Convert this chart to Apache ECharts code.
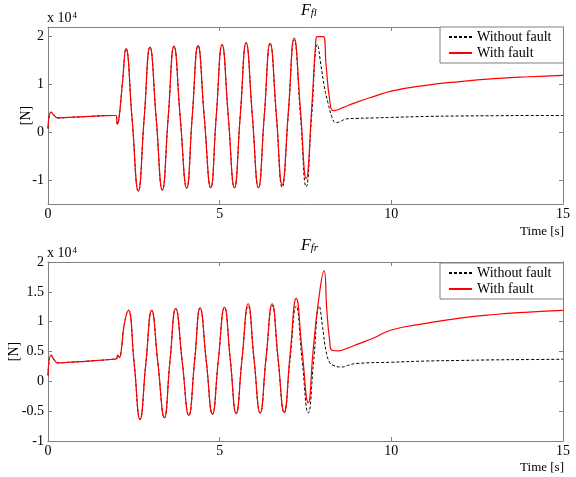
<!DOCTYPE html>
<html>
<head>
<meta charset="utf-8">
<script src="https://cdn.jsdelivr.net/npm/echarts@6/dist/echarts.min.js"></script>
<style>
  html, body { margin: 0; padding: 0; background: #fff; }
  #chart { width: 576px; height: 477px; }
</style>
</head>
<body>
<div id="chart"></div>
<script>
// values are in units of 10^4 N, time in seconds
const flCommon = [
  [0, 0.08], [0.09, 0.42], [0.18, 0.35], [0.28, 0.3], [0.6, 0.31], [1.2, 0.33],
  [1.9, 0.35], [1.98, 0.35], [2.02, 0.17], [2.07, 0.3], [2.17, 1.05], [2.27, 1.75],
  [2.45, 0.27], [2.63, -1.23], [2.8, 0.28], [2.97, 1.78],
  [3.15, 0.3], [3.33, -1.21], [3.5, 0.3], [3.67, 1.8],
  [3.85, 0.32], [4.04, -1.17], [4.2, 0.32], [4.37, 1.81],
  [4.55, 0.33], [4.74, -1.16], [4.9, 0.33], [5.07, 1.83],
  [5.25, 0.34], [5.43, -1.16], [5.6, 0.35], [5.77, 1.87],
  [5.95, 0.36], [6.13, -1.16], [6.3, 0.35], [6.47, 1.86]
];
const flNoFaultTail = [
  [6.65, 0.35], [6.82, -1.15], [7.0, 0.37], [7.17, 1.93],
  [7.35, 0.38], [7.52, -1.14], [7.68, 0.35], [7.85, 1.83],
  [7.95, 1.4], [8.05, 0.95], [8.16, 0.6], [8.28, 0.3], [8.38, 0.2], [8.5, 0.22],
  [8.7, 0.28], [9, 0.29], [9.5, 0.3], [10, 0.31], [11, 0.33], [12, 0.34],
  [13, 0.345], [14, 0.35], [15, 0.35]
];
const flFaultTail = [
  [6.65, 0.38], [6.82, -1.1], [7.0, 0.43], [7.17, 1.97],
  [7.35, 0.5], [7.52, -0.97], [7.68, 0.5], [7.8, 1.9], [7.84, 2.0], [8.02, 2.0],
  [8.1, 1.4], [8.2, 0.7], [8.3, 0.45], [8.4, 0.46], [8.6, 0.52], [9, 0.63],
  [9.5, 0.75], [10, 0.86], [11, 0.98], [12, 1.06], [13, 1.12], [14, 1.16], [15, 1.19]
];

const frCommon = [
  [0, 0.1], [0.09, 0.44], [0.18, 0.36], [0.28, 0.31], [0.6, 0.32], [1.2, 0.34],
  [1.9, 0.37], [2.0, 0.38], [2.03, 0.44], [2.08, 0.4], [2.13, 0.5], [2.22, 0.95], [2.34, 1.19],
  [2.51, 0.3], [2.68, -0.64], [2.85, 0.3], [3.02, 1.19],
  [3.2, 0.31], [3.39, -0.61], [3.55, 0.32], [3.72, 1.22],
  [3.91, 0.33], [4.1, -0.57], [4.27, 0.34], [4.43, 1.23],
  [4.61, 0.34], [4.79, -0.55], [4.96, 0.35], [5.14, 1.24],
  [5.31, 0.36], [5.48, -0.54], [5.65, 0.37]
];
const frNoFaultTail = [
  [5.83, 1.26], [6.0, 0.36], [6.18, -0.53], [6.35, 0.37], [6.53, 1.27],
  [6.7, 0.37], [6.88, -0.53], [7.05, 0.37], [7.23, 1.26],
  [7.4, 0.36], [7.58, -0.53], [7.74, 0.36], [7.9, 1.26],
  [8.0, 0.9], [8.1, 0.5], [8.2, 0.32], [8.3, 0.27], [8.55, 0.24], [8.75, 0.27],
  [9, 0.3], [10, 0.32], [11, 0.34], [12, 0.35], [13, 0.36], [14, 0.365], [15, 0.37]
];
const frFaultTail = [
  [5.83, 1.3], [6.0, 0.39], [6.18, -0.53], [6.35, 0.39], [6.53, 1.3],
  [6.7, 0.4], [6.88, -0.52], [7.05, 0.44], [7.23, 1.39],
  [7.4, 0.52], [7.58, -0.36], [7.72, 0.5], [7.87, 1.31], [8.04, 1.85],
  [8.12, 1.2], [8.2, 0.7], [8.27, 0.52], [8.45, 0.51], [8.6, 0.53], [9, 0.62],
  [9.5, 0.73], [10, 0.86], [11, 0.97], [12, 1.06], [13, 1.12], [14, 1.16], [15, 1.19]
];

const flTicks = [-1, 0, 1, 2];
const seriesNames = ["Without fault", "With fault"];

const serif = "'Liberation Serif', 'Times New Roman', serif";
const frameColor = "#808080";

function xAxisFor(grid, pos, showLabels) {
  return {
    type: "value",
    gridIndex: grid,
    position: pos,
    min: 0,
    max: 15,
    interval: 5,
    axisLine: { onZero: false, lineStyle: { color: frameColor, width: 1 } },
    axisTick: { inside: true, length: 4, lineStyle: { color: frameColor } },
    axisLabel: {
      show: showLabels,
      margin: 3,
      color: "#000",
      fontFamily: serif,
      fontSize: 14,
    },
    splitLine: { show: false },
  };
}

function yAxisFor(grid, pos, showLabels, extra) {
  return Object.assign(
    {
      type: "value",
      gridIndex: grid,
      position: pos,
      axisLine: { onZero: false, lineStyle: { color: frameColor, width: 1 } },
      axisTick: { inside: true, length: 4, lineStyle: { color: frameColor } },
      axisLabel: {
        show: showLabels,
        margin: 4,
        color: "#000",
        fontFamily: serif,
        fontSize: 14,
      },
      splitLine: { show: false },
    },
    extra
  );
}

function yName(gap) {
  return {
    name: "[N]",
    nameLocation: "middle",
    nameRotate: 90,
    nameGap: gap,
    nameMoveOverlap: false,
    nameTextStyle: { fontFamily: serif, fontSize: 14, color: "#000" },
  };
}

function legendAt(top) {
  return {
    data: seriesNames,
    orient: "vertical",
    left: 440,
    top: top,
    itemWidth: 23,
    itemHeight: 14,
    itemGap: 2,
    padding: [3, 12, 3, 8],
    borderColor: frameColor,
    borderWidth: 1,
    borderRadius: 0,
    backgroundColor: "#fff",
    selectedMode: false,
    itemStyle: { opacity: 0 },
    textStyle: { fontFamily: serif, fontSize: 14, color: "#000" },
  };
}

function titleText(left, top, sub) {
  return {
    text: "{F|F}{s|" + sub + "}",
    left: left,
    top: top,
    padding: 0,
    textStyle: {
      fontWeight: "normal",
      rich: {
        F: { fontFamily: serif, fontStyle: "italic", fontWeight: "normal", fontSize: 16, lineHeight: 16, verticalAlign: "top", color: "#000" },
        s: { fontFamily: serif, fontStyle: "italic", fontWeight: "normal", fontSize: 11, lineHeight: 11, verticalAlign: "bottom", padding: [11, 0, 0, 0], color: "#000" },
      },
    },
  };
}

function scaleText(top) {
  return {
    text: "{a|x 10}{b|4}",
    left: 47,
    top: top,
    padding: 0,
    textStyle: {
      fontWeight: "normal",
      rich: {
        a: { fontFamily: serif, fontWeight: "normal", fontSize: 14, lineHeight: 14, verticalAlign: "bottom", color: "#000" },
        b: { fontFamily: serif, fontWeight: "normal", fontSize: 9, lineHeight: 9, verticalAlign: "top", padding: [0, 0, 6, 1], color: "#000" },
      },
    },
  };
}

function timeLabel(top) {
  return {
    text: "Time [s]",
    right: 12,
    top: top,
    padding: 0,
    textStyle: { fontFamily: serif, fontSize: 13, fontWeight: "normal", color: "#000" },
  };
}

function lineSeries(name, data, axis, isFault) {
  return {
    name: name,
    type: "line",
    xAxisIndex: axis,
    yAxisIndex: axis,
    data: data,
    smooth: 0.5,
    symbol: "none",
    animation: false,
    color: isFault ? "#ff0000" : "#000000",
    lineStyle: isFault
      ? { color: "#ff0000", width: 1.2 }
      : { color: "#000000", width: 1, type: [3, 2] },
  };
}

const myChart = echarts.init(document.getElementById("chart"));

myChart.setOption({
  backgroundColor: "#fff",
  animation: false,
  title: [
    titleText(301, 3, "fl"),
    titleText(301, 238, "fr"),
    scaleText(11),
    scaleText(246),
    timeLabel(225),
    timeLabel(461),
  ],
  legend: [legendAt(27), legendAt(263)],
  grid: [
    { left: 48, right: 13, top: 27, height: 177, containLabel: false, outerBoundsMode: "none" },
    { left: 48, right: 13, top: 262, height: 179, containLabel: false, outerBoundsMode: "none" },
  ],
  xAxis: [
    xAxisFor(0, "bottom", true),
    xAxisFor(0, "top", false),
    xAxisFor(1, "bottom", true),
    xAxisFor(1, "top", false),
  ],
  yAxis: [
    yAxisFor(0, "left", true, Object.assign({
      min: -1.5,
      max: 2.2,
      axisLabel: { margin: 4, color: "#000", fontFamily: serif, fontSize: 14, customValues: flTicks },
      axisTick: { inside: true, length: 4, lineStyle: { color: frameColor }, customValues: flTicks },
    }, yName(15))),
    yAxisFor(0, "right", false, {
      min: -1.5,
      max: 2.2,
      axisTick: { inside: true, length: 4, lineStyle: { color: frameColor }, customValues: flTicks },
    }),
    yAxisFor(1, "left", true, Object.assign({ min: -1, max: 2, interval: 0.5 }, yName(27))),
    yAxisFor(1, "right", false, { min: -1, max: 2, interval: 0.5 }),
  ],
  series: [
    lineSeries(seriesNames[0], flCommon.concat(flNoFaultTail), 0, false),
    lineSeries(seriesNames[1], flCommon.concat(flFaultTail), 0, true),
    lineSeries(seriesNames[0], frCommon.concat(frNoFaultTail), 2, false),
    lineSeries(seriesNames[1], frCommon.concat(frFaultTail), 2, true),
  ],
});
</script>
</body>
</html>
